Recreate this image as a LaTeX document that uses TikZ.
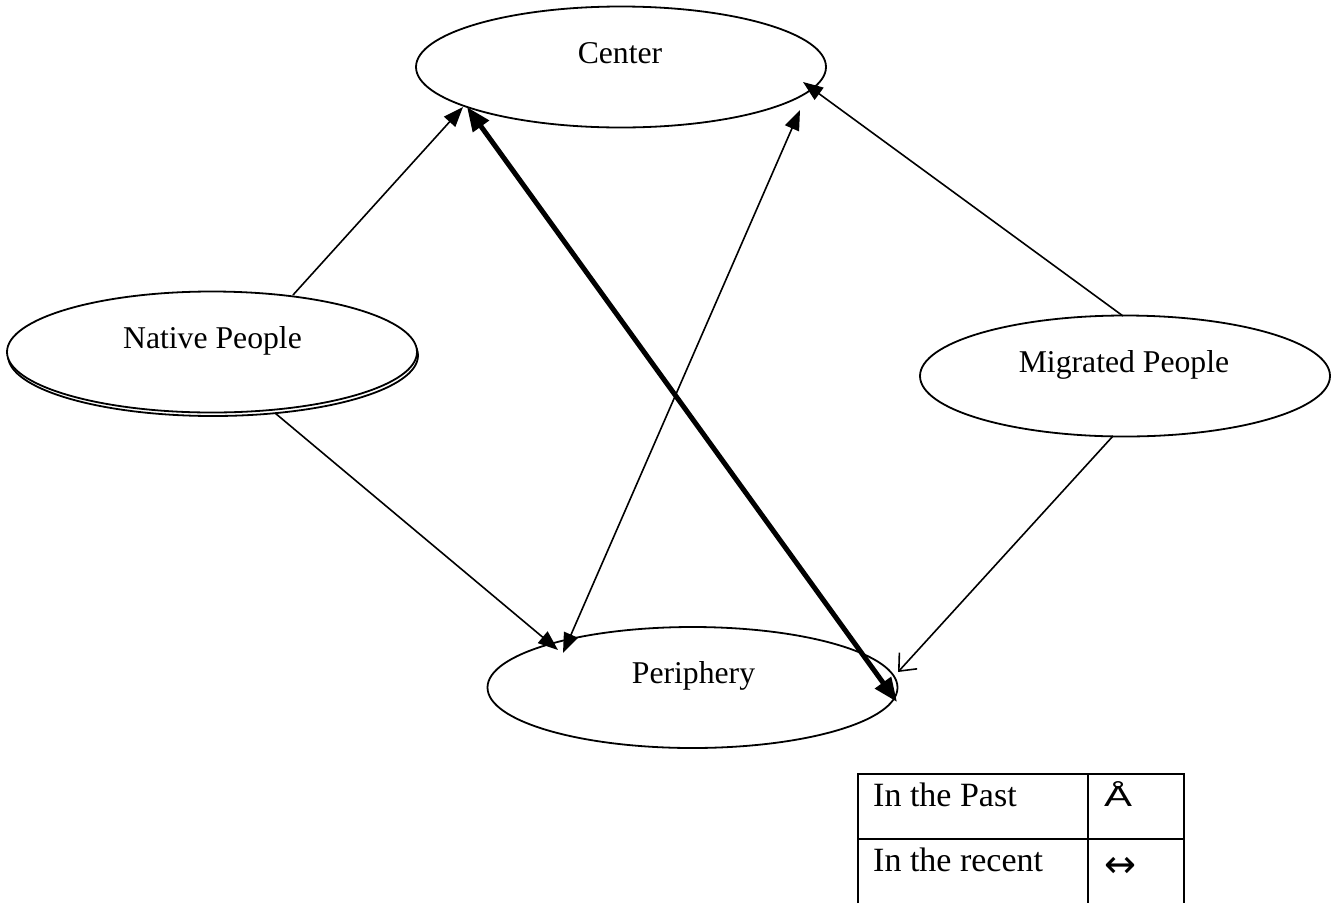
\documentclass[tikz,border=0pt]{standalone}
\usepackage{fontspec}
\setmainfont{Liberation Serif}
\newfontfamily\arialfont{Liberation Sans}
\newfontfamily\dejavu{DejaVu Sans}
\usetikzlibrary{shapes.geometric,arrows.meta,calc}
\begin{document}
\begin{tikzpicture}[x=1pt,y=-1pt,
  ell/.style={draw,ellipse,line width=1.8pt,fill=white,inner sep=0pt,outer sep=0pt,
    minimum width=410pt,minimum height=121pt},
  lbl/.style={anchor=base,inner sep=0pt,font=\fontsize{31.7}{38}\selectfont},
  tlbl/.style={anchor=base west,inner sep=0pt,font=\fontsize{34}{40}\selectfont},
  thin/.style={line width=1.6pt,-{Triangle[length=20pt,width=15pt]}},
  thinboth/.style={line width=1.6pt,{Triangle[length=20pt,width=15pt]}-{Triangle[length=20pt,width=15pt]}},
  thick/.style={line width=5pt,{Triangle[length=24pt,width=19pt]}-{Triangle[length=24pt,width=19pt]}},
  open/.style={line width=1.6pt,-{Straight Barb[length=14pt,width=24pt]}},
  tab/.style={line width=1.5pt}]
\useasboundingbox (0,0) rectangle (1336,903);
% ellipses
\node[ell] (C) at (621,67) {};
\node[ell] (Nsh) at (213,355.5) {};
\node[ell] (N) at (212,352) {};
\node[ell] (M) at (1125,376) {};
\node[ell] (P) at (692.5,687.5) {};
% labels
\node[lbl] (Ct) at (620,63) {Center};
\node[lbl] (Nt) at (212.5,348) {Native People};
\node[lbl] (Mt) at (1124,372) {Migrated People};
\node[lbl] (Pt) at (693.5,683) {Periphery};
% connectors
\draw[thin] ($(N)+(81,-57)$) -- ($(C)+(-158,40)$);
\draw[thin] ($(N)+(63,61)$) -- ($(P)+(-134.5,-37.5)$);
\draw[thinboth] ($(P)+(-129.5,-34.5)$) -- ($(C)+(179,43)$);
\draw[thick] ($(C)+(-154,40)$) -- ($(P)+(204.5,14.5)$);
\draw[thin] ($(M)+(-2,-60)$) -- ($(C)+(182,15)$);
\draw[open] ($(M)+(-12,60)$) -- ($(P)+(205.5,-15.5)$);
% legend table
\draw[tab] (858,903) -- (858,774) -- (1184,774) -- (1184,903);
\draw[tab] (858,839) -- (1184,839);
\draw[tab] (1088,774) -- (1088,903);
\node[tlbl] (past) at (873,806) {In the Past};
\node[tlbl] (recent) at (873,871) {In the recent};
\node[anchor=base,inner sep=0pt] (pastsym) at (1118,806) {\resizebox{28pt}{25pt}{\arialfont Å}};
\node[inner sep=0pt] (recentsym) at (1120,867) {\resizebox{32pt}{!}{\dejavu ↔}};
\end{tikzpicture}
\end{document}
